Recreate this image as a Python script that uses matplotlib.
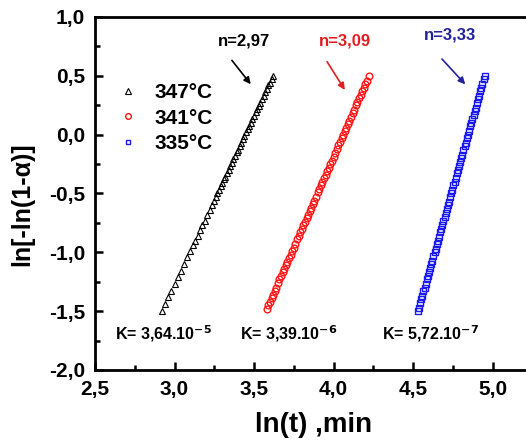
import matplotlib
matplotlib.use("Agg")
import matplotlib.pyplot as plt
from matplotlib.ticker import MultipleLocator, FuncFormatter

plt.rcParams['font.family'] = ['Liberation Sans', 'DejaVu Sans']
plt.rcParams['font.weight'] = 'bold'

# 347 C (triangles)
x_347 = [2.92, 2.94, 2.96, 2.98, 3.00, 3.02, 3.04, 3.06, 3.08, 3.10, 3.115, 3.13,
         3.145, 3.16, 3.175, 3.19, 3.205, 3.22, 3.235, 3.25, 3.26, 3.27, 3.28, 3.29,
         3.30, 3.31, 3.32, 3.33, 3.34, 3.35, 3.36, 3.37, 3.38, 3.39, 3.40, 3.41,
         3.42, 3.43, 3.44, 3.45, 3.46, 3.47, 3.48, 3.49, 3.50, 3.51, 3.52, 3.53,
         3.54, 3.55, 3.56, 3.57, 3.58, 3.59, 3.60, 3.61, 3.62]
y_347 = [-1.50, -1.44, -1.38, -1.33, -1.27, -1.21, -1.16, -1.10, -1.04, -0.99, -0.94, -0.90,
         -0.86, -0.81, -0.77, -0.73, -0.68, -0.64, -0.60, -0.56, -0.53, -0.50, -0.47, -0.44,
         -0.41, -0.38, -0.36, -0.33, -0.30, -0.27, -0.24, -0.21, -0.18, -0.15, -0.13, -0.10,
         -0.07, -0.04, -0.01, 0.02, 0.05, 0.07, 0.10, 0.13, 0.16, 0.19, 0.22, 0.24,
         0.27, 0.30, 0.33, 0.36, 0.39, 0.42, 0.44, 0.47, 0.50]

# 341 C (circles)
x_341 = [3.58, 3.59, 3.60, 3.61, 3.62, 3.63, 3.64, 3.65, 3.66, 3.67, 3.68, 3.69, 3.70,
         3.71, 3.72, 3.73, 3.74, 3.75, 3.76, 3.77, 3.78, 3.79, 3.80, 3.81, 3.82, 3.83,
         3.84, 3.85, 3.86, 3.87, 3.88, 3.89, 3.90, 3.91, 3.92, 3.93, 3.94, 3.95, 3.96,
         3.97, 3.98, 3.99, 4.00, 4.01, 4.02, 4.03, 4.04, 4.05, 4.06, 4.07, 4.08, 4.09,
         4.10, 4.11, 4.12, 4.13, 4.14, 4.15, 4.16, 4.17, 4.18, 4.19, 4.20, 4.21, 4.225]
y_341 = [-1.48, -1.45, -1.42, -1.39, -1.36, -1.33, -1.30, -1.26, -1.23, -1.20, -1.17, -1.14, -1.11,
         -1.08, -1.05, -1.02, -0.99, -0.96, -0.93, -0.89, -0.86, -0.83, -0.80, -0.77, -0.74, -0.71,
         -0.68, -0.65, -0.62, -0.59, -0.56, -0.53, -0.49, -0.46, -0.43, -0.40, -0.37, -0.34, -0.31,
         -0.28, -0.25, -0.22, -0.19, -0.16, -0.12, -0.09, -0.06, -0.03, 0.00, 0.03, 0.06, 0.09,
         0.12, 0.15, 0.18, 0.21, 0.25, 0.28, 0.31, 0.34, 0.37, 0.40, 0.43, 0.46, 0.50]

# 335 C (squares)
x_335 = [4.530, 4.537, 4.544, 4.551, 4.558, 4.565, 4.572, 4.579, 4.586, 4.593, 4.600,
         4.607, 4.614, 4.621, 4.628, 4.635, 4.642, 4.649, 4.656, 4.663, 4.670, 4.677,
         4.684, 4.691, 4.698, 4.705, 4.712, 4.719, 4.726, 4.733, 4.740, 4.747, 4.754,
         4.761, 4.768, 4.775, 4.782, 4.789, 4.796, 4.803, 4.810, 4.817, 4.824, 4.831,
         4.838, 4.845, 4.852, 4.859, 4.866, 4.873, 4.880, 4.887, 4.894, 4.901, 4.908,
         4.915, 4.922, 4.929, 4.936, 4.943, 4.950]
y_335 = [-1.50, -1.47, -1.43, -1.40, -1.37, -1.33, -1.30, -1.27, -1.23, -1.20, -1.17,
         -1.13, -1.10, -1.07, -1.03, -1.00, -0.97, -0.93, -0.90, -0.87, -0.83, -0.80,
         -0.77, -0.73, -0.70, -0.67, -0.63, -0.60, -0.57, -0.53, -0.50, -0.47, -0.43,
         -0.40, -0.37, -0.33, -0.30, -0.27, -0.23, -0.20, -0.17, -0.13, -0.10, -0.07,
         -0.03, 0.00, 0.03, 0.07, 0.10, 0.13, 0.17, 0.20, 0.23, 0.27, 0.30,
         0.33, 0.37, 0.40, 0.43, 0.47, 0.50]

labels = ['347°C', '341°C', '335°C']
n_text = ['n=2,97', 'n=3,09', 'n=3,33']
k_text = [r'K= 3,64.10$^{-5}$', r'K= 3,39.10$^{-6}$', r'K= 5,72.10$^{-7}$']

fig = plt.figure(figsize=(5.26, 4.41), dpi=100)
ax = fig.add_axes([0.1806, 0.161, 0.8194, 0.8005])

ax.plot(x_347, y_347, ls='none', marker='^', ms=4.8, mfc='none', mec='black', mew=0.8, label=labels[0])
ax.plot(x_341, y_341, ls='none', marker='o', ms=4.8, mfc='none', mec='#ff1414', mew=1.0, label=labels[1])
ax.plot(x_335, y_335, ls='none', marker='s', ms=4.0, mfc='none', mec='#1a1aee', mew=1.0, label=labels[2])

ax.set_xlim(2.5, 5.21)
ax.set_ylim(-2.0, 1.0)
ax.xaxis.set_major_locator(MultipleLocator(0.5))
ax.xaxis.set_minor_locator(MultipleLocator(0.25))
ax.yaxis.set_major_locator(MultipleLocator(0.5))
ax.yaxis.set_minor_locator(MultipleLocator(0.25))
fmt = FuncFormatter(lambda v, p: ('%.1f' % v).replace('.', ','))
ax.xaxis.set_major_formatter(fmt)
ax.yaxis.set_major_formatter(fmt)
ax.tick_params(which='both', direction='in', width=1.8, labelsize=15, top=False, right=False)
ax.tick_params(which='major', length=6)
ax.tick_params(which='minor', length=3.5)
ax.tick_params(axis='x', which='major', pad=7)
ax.tick_params(axis='y', which='major', pad=7)
for s in ['left', 'bottom', 'top']:
    ax.spines[s].set_linewidth(2)
ax.spines['right'].set_visible(False)

ax.set_xlabel('ln(t) ,min', fontsize=20, fontweight='bold')
ax.xaxis.set_label_coords(0.506, -0.12)
ax.set_ylabel('ln[-ln(1-α)]', fontsize=18, fontweight='bold')
ax.yaxis.set_label_coords(-0.14, 0.47)

leg = ax.legend(loc='upper left', bbox_to_anchor=(0.01, 0.865), frameon=False, fontsize=15,
                handlelength=1.0, handletextpad=0.75, labelspacing=0.3, markerscale=0.85)

# n annotations with arrows
ax.annotate('', xy=(3.49, 0.41), xytext=(3.35, 0.65),
            arrowprops=dict(arrowstyle='-|>', color='black', lw=1.2, mutation_scale=10))
ax.text(3.44, 0.80, n_text[0], color='black', fontsize=12, ha='center', va='center')
ax.annotate('', xy=(4.08, 0.36), xytext=(3.95, 0.64),
            arrowprops=dict(arrowstyle='-|>', color='#e02020', lw=1.2, mutation_scale=10))
ax.text(4.07, 0.80, n_text[1], color='#e02020', fontsize=12, ha='center', va='center')
ax.annotate('', xy=(4.84, 0.41), xytext=(4.67, 0.66),
            arrowprops=dict(arrowstyle='-|>', color='#22229a', lw=1.2, mutation_scale=10))
ax.text(4.73, 0.85, n_text[2], color='#22229a', fontsize=12, ha='center', va='center')

for xk, t in zip([2.93, 3.72, 4.61], k_text):
    ax.text(xk, -1.69, t, fontsize=11.5, ha='center', va='center', color='black')

fig.savefig('out.png', dpi=100)
